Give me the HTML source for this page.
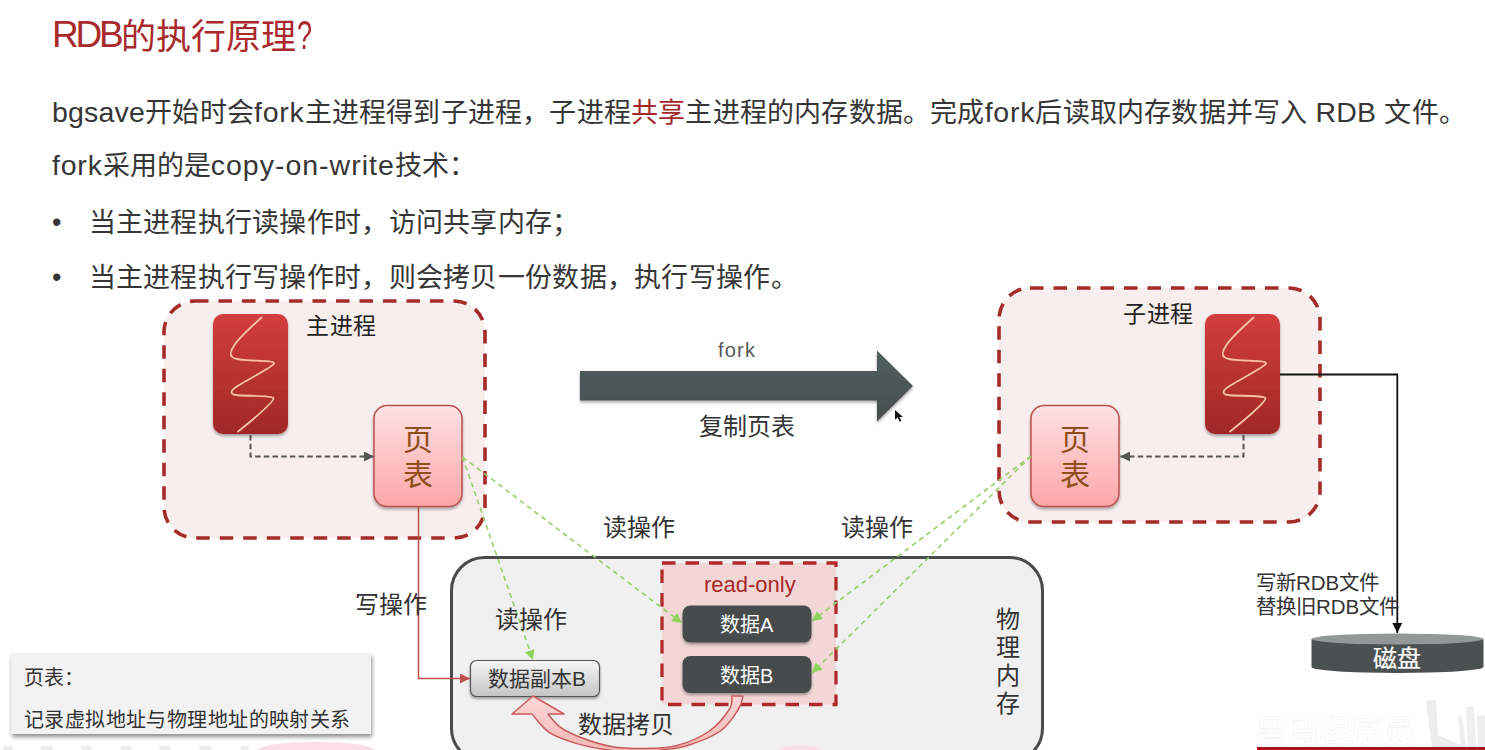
<!DOCTYPE html>
<html lang="zh-CN"><head><meta charset="utf-8">
<style>
html,body{margin:0;padding:0;width:1485px;height:750px;overflow:hidden;background:#fff;}
body{position:relative;font-family:"Liberation Sans",sans-serif;color:#333;}
.a{position:absolute;white-space:nowrap;line-height:1;}
#title{left:52px;top:15px;font-size:35px;color:#aa292d;}
.t{font-size:27px;color:#363636;left:52px;}
.L{font-size:28.5px;}
.lb{font-size:24px;color:#333;}
svg{position:absolute;left:0;top:0;}
</style></head><body>
<svg width="1485" height="750" viewBox="0 0 1485 750">
  <defs>
    <linearGradient id="gRed" x1="0" y1="0" x2="0" y2="1">
      <stop offset="0" stop-color="#d23d3d"/><stop offset="1" stop-color="#a02828"/>
    </linearGradient>
    <linearGradient id="gPink" x1="0" y1="0" x2="0" y2="1">
      <stop offset="0" stop-color="#fde2e4"/><stop offset="1" stop-color="#fda6a8"/>
    </linearGradient>
    <linearGradient id="gGray" x1="0" y1="0" x2="0" y2="1">
      <stop offset="0" stop-color="#f7f7f7"/><stop offset="1" stop-color="#c4c4c4"/>
    </linearGradient>
    <linearGradient id="gArrow" x1="0" y1="0" x2="0" y2="1">
      <stop offset="0" stop-color="#4f5f5e"/><stop offset="1" stop-color="#484d4d"/>
    </linearGradient>
    <linearGradient id="gCopy" x1="0" y1="0" x2="0" y2="1">
      <stop offset="0" stop-color="#fdd6d6"/><stop offset="1" stop-color="#f3b5b5"/>
    </linearGradient>
    <filter id="sh" x="-20%" y="-20%" width="140%" height="150%">
      <feGaussianBlur in="SourceAlpha" stdDeviation="1.5"/>
      <feOffset dx="0" dy="2" result="b"/>
      <feComponentTransfer><feFuncA type="linear" slope="0.35"/></feComponentTransfer>
      <feMerge><feMergeNode/><feMergeNode in="SourceGraphic"/></feMerge>
    </filter>
    <filter id="sh2" x="-10%" y="-20%" width="120%" height="150%">
      <feGaussianBlur in="SourceAlpha" stdDeviation="2"/>
      <feOffset dx="1" dy="3" result="b"/>
      <feComponentTransfer><feFuncA type="linear" slope="0.45"/></feComponentTransfer>
      <feMerge><feMergeNode/><feMergeNode in="SourceGraphic"/></feMerge>
    </filter>
    <marker id="mDark" viewBox="0 0 10 10" refX="10" refY="5" markerWidth="10" markerHeight="10" markerUnits="userSpaceOnUse" orient="auto">
      <path d="M0,0 L10,5 L0,10 Z" fill="#555"/>
    </marker>
    <marker id="mGreen" viewBox="0 0 10 10" refX="10" refY="5" markerWidth="10" markerHeight="11" markerUnits="userSpaceOnUse" orient="auto">
      <path d="M0,0 L10,5 L0,10 Z" fill="#8dd35a"/>
    </marker>
    <marker id="mRed" viewBox="0 0 10 10" refX="10" refY="5" markerWidth="10" markerHeight="10" markerUnits="userSpaceOnUse" orient="auto">
      <path d="M0,0 L10,5 L0,10 Z" fill="#c0504d"/>
    </marker>
    <marker id="mBlack" viewBox="0 0 10 10" refX="10" refY="5" markerWidth="10" markerHeight="10" markerUnits="userSpaceOnUse" orient="auto">
      <path d="M0,0 L10,5 L0,10 Z" fill="#111"/>
    </marker>
  </defs>

  <!-- main process box -->
  <rect x="164" y="301" width="321" height="237" rx="31" fill="#f9eeee" stroke="#a52a2a" stroke-width="3.6" stroke-dasharray="13.5 10"/>
  <!-- child process box -->
  <rect x="999" y="288" width="321" height="234" rx="31" fill="#f9eeee" stroke="#a52a2a" stroke-width="3.6" stroke-dasharray="13.5 10"/>

  <!-- physical memory -->
  <rect x="451.5" y="557.5" width="591" height="204" rx="33" fill="#f0f0f0" stroke="#4a4a4a" stroke-width="3"/>
  <!-- read-only -->
  <rect x="662" y="563" width="174" height="141.5" fill="#f3d7d7" stroke="#b02a2a" stroke-width="3.3" stroke-dasharray="13.5 10"/>

  <!-- red process icons -->
  <g filter="url(#sh)">
    <rect x="213" y="314" width="75" height="120" rx="10" fill="url(#gRed)"/>
    <rect x="1205" y="314" width="75" height="120" rx="10" fill="url(#gRed)"/>
  </g>
  <path id="scurve" d="M262,317 C248,330 233,343 231,352 C229,359 238,360 252,360.5 C265,361 274,361 274,363.5 C273,367 250,378 236,387 C229,392 230,395 240,395.5 C255,396 272,395.5 273.5,398 C274,402 255,418 237.5,432" fill="none" stroke="#f7c2a4" stroke-width="1.8"/>
  <use href="#scurve" x="992"/>
  

  <!-- page tables -->
  <g filter="url(#sh)">
    <rect x="374" y="405.5" width="88" height="101" rx="13" fill="url(#gPink)" stroke="#b9524f" stroke-width="1.5"/>
    <rect x="1031" y="405.5" width="88" height="101" rx="13" fill="url(#gPink)" stroke="#b9524f" stroke-width="1.5"/>
  </g>

  <!-- dashed dark arrows -->
  <path d="M250.5,435 V456.5 H374" fill="none" stroke="#555" stroke-width="2" stroke-dasharray="5.5 3.2" marker-end="url(#mDark)"/>
  <path d="M1243.5,435 V456.5 H1120" fill="none" stroke="#555" stroke-width="2" stroke-dasharray="5.5 3.2" marker-end="url(#mDark)"/>

  <!-- fork arrow -->
  <polygon filter="url(#sh)" points="580,371 877,371 877,350.5 913,386 877,421.5 877,400.5 580,400.5" fill="url(#gArrow)"/>

  <!-- red write line -->
  <path d="M418.5,507 V678.5 H470" fill="none" stroke="#c0504d" stroke-width="1.5" marker-end="url(#mRed)"/>

  <!-- black line to disk -->
  <path d="M1280,374.5 H1397.3 V633" fill="none" stroke="#111" stroke-width="1.8" marker-end="url(#mBlack)"/>

  <!-- data boxes -->
  <g filter="url(#sh)">
    <rect x="682.5" y="605.5" width="129" height="37" rx="8" fill="#464b4c"/>
    <rect x="682.5" y="656" width="129" height="37" rx="8" fill="#464b4c"/>
    <rect x="470.5" y="660.5" width="129" height="36" rx="6" fill="url(#gGray)" stroke="#555" stroke-width="1.2"/>
  </g>

  <!-- green dashed arrows -->
  <g fill="none" stroke="#98cf68" stroke-width="1.6" stroke-dasharray="5 4">
    <path d="M462.5,457 L682,623" marker-end="url(#mGreen)"/>
    <path d="M462.5,457 L533,660" marker-end="url(#mGreen)"/>
    <path d="M1031,456 L812,621" marker-end="url(#mGreen)"/>
    <path d="M1031,456 L812,673" marker-end="url(#mGreen)"/>
  </g>

  <!-- copy curved arrow -->
  <path d="M512,714 L533,696 L564,714 L548,714 C550.1,716.2 554.8,723.3 560.5,727.3 C566.2,731.3 573.9,734.8 582.3,738.0 C590.7,741.2 600.5,744.6 611.0,746.4 C621.5,748.1 634.0,748.6 645.0,748.5 C656.0,748.4 666.2,748.4 677.0,745.5 C687.8,742.6 700.8,737.1 709.5,731.0 C718.2,724.9 725.8,714.8 729.5,709.0 C733.2,703.2 731.6,698.2 732.0,696.0 L743,696 C742.3,698.2 742.4,703.2 738.6,709.0 C734.9,714.8 729.0,724.9 720.5,731.0 C712.0,737.1 697.5,742.3 687.7,745.5 C678.0,748.7 670.8,748.7 662.0,750.0 C653.2,751.3 644.0,753.5 635.0,753.5 C626.0,753.5 617.4,751.6 607.7,750.0 C598.0,748.4 586.5,746.5 576.8,743.6 C567.1,740.7 557.0,737.6 549.5,732.7 C542.0,727.8 534.9,717.1 532.0,714.0 Z" fill="url(#gCopy)" stroke="#c85a5a" stroke-width="1.5" stroke-linejoin="round"/>

  <!-- legend -->
  <rect x="11" y="653" width="360" height="81" fill="#f2f2f2" filter="url(#sh2)"/>
  <g fill="#ececec"><rect x="3" y="746" width="10" height="4" rx="2"/><rect x="40" y="746" width="13" height="4" rx="2"/><rect x="81" y="746" width="11" height="4" rx="2"/><rect x="120" y="746" width="12" height="4" rx="2"/><rect x="159" y="746" width="12" height="4" rx="2"/><rect x="199" y="746" width="13" height="4" rx="2"/><rect x="240" y="746" width="9" height="4" rx="2"/></g>
  <ellipse cx="316" cy="750" rx="58" ry="8" fill="#fbdde8"/>
  <ellipse cx="800" cy="751" rx="22" ry="6" fill="#fbdde8"/>

  <!-- disk -->
  <path d="M1311.5,639 V667 A86,6 0 0 0 1483.5,667 V639 Z" fill="#4b5151"/>
  <ellipse cx="1397.5" cy="639" rx="86" ry="5.5" fill="#939797"/>

  <!-- cursor -->
  <polygon points="895,410 895,419.8 897.6,417.5 899.6,421.8 901.4,421 899.5,417 903,417" fill="#111"/>
  <!-- watermark -->
  <path d="M1426,701 L1436,700 L1438,735 L1458,744 L1466,747 L1432,747 Z" fill="#ececec"/>
  <path d="M1466,707 L1474,706 L1476,747 L1468,747 Z M1458,716 L1462,715 L1466,747 L1461,747 Z M1477,716 L1485,715 L1485,747 L1478,747 Z" fill="#efefef"/>
  <rect x="1257" y="747" width="228" height="3" fill="#a8141a"/>
</svg>

<div id="title" class="a"><span style="letter-spacing:-3.2px;font-size:37px;position:relative;top:-2px">RDB</span>的执行原理<span style="display:inline-block;font-size:41px;transform:scaleX(0.66);transform-origin:0 0;margin-left:1px">?</span></div>
<div class="a t" style="top:98px;letter-spacing:0.2px"><span class="L">bgsave</span>开始时会<span class="L" style="letter-spacing:0.8px">fork</span>主进程得到子进程，子进程<span style="color:#a3282b">共享</span>主进程的内存数据。完成<span class="L" style="letter-spacing:0.8px">fork</span>后读取内存数据并写入<span class="L"> RDB </span>文件。</div>
<div class="a t" style="top:151px"><span class="L" style="letter-spacing:0.8px">fork</span>采用的是<span class="L" style="letter-spacing:1px">copy-on-write</span>技术：</div>
<div class="a t" style="top:208.5px;left:52px">•</div>
<div class="a t" style="top:210px;left:88.5px;letter-spacing:0.28px">当主进程执行读操作时，访问共享内存；</div>
<div class="a t" style="top:263.5px;left:52px">•</div>
<div class="a t" style="top:265px;left:88.5px;letter-spacing:0.28px">当主进程执行写操作时，则会拷贝一份数据，执行写操作。</div>

<div class="a" style="left:306px;top:315px;font-size:23px;letter-spacing:0.6px;color:#222">主进程</div>
<div class="a" style="left:1123px;top:303px;font-size:23px;letter-spacing:0.6px;color:#222">子进程</div>
<div class="a" style="left:403px;top:422px;font-size:30px;line-height:35px;color:#8f4f1a;width:30px;white-space:normal">页表</div>
<div class="a" style="left:1060px;top:422px;font-size:30px;line-height:35px;color:#8f4f1a;width:30px;white-space:normal">页表</div>

<div class="a" style="left:718px;top:340px;font-size:20px;color:#5a5a5a;letter-spacing:1.2px">fork</div>
<div class="a lb" style="left:699px;top:415px">复制页表</div>
<div class="a lb" style="left:603px;top:516px">读操作</div>
<div class="a lb" style="left:841px;top:516px">读操作</div>
<div class="a lb" style="left:355px;top:593px">写操作</div>
<div class="a lb" style="left:495px;top:608px">读操作</div>
<div class="a" style="left:704px;top:574px;font-size:22px;color:#a82828">read-only</div>
<div class="a" style="left:720px;top:615px;font-size:20px;color:#fff">数据A</div>
<div class="a" style="left:720px;top:666px;font-size:20px;color:#fff">数据B</div>
<div class="a" style="left:488px;top:668px;font-size:21px;color:#333">数据副本B</div>
<div class="a lb" style="left:578px;top:713px">数据拷贝</div>
<div class="a" style="left:996px;top:606px;font-size:24px;line-height:28px;width:24px;white-space:normal;color:#333">物理内存</div>

<div class="a" style="left:24px;top:668px;font-size:20px;color:#333">页表：</div>
<div class="a" style="left:24px;top:710px;font-size:20px;letter-spacing:0.41px;color:#333">记录虚拟地址与物理地址的映射关系</div>

<div class="a" style="left:1256px;top:571px;font-size:20.5px;line-height:24px;color:#333">写新RDB文件<br>替换旧RDB文件</div>
<div class="a" style="left:1256px;top:716px;font-size:30px;color:#fff;text-shadow:0 0 1px #ddd;font-weight:bold;letter-spacing:2px">黑马程序员</div>
<div class="a" style="left:1373px;top:647px;font-size:24px;color:#fff;-webkit-text-stroke:0.2px #fff">磁盘</div>
</body></html>
